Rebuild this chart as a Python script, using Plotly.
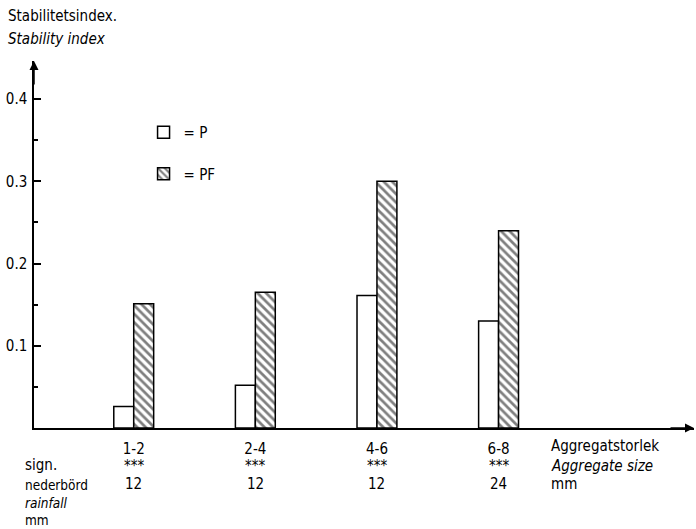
import plotly.graph_objects as go

categories = ["1-2", "2-4", "4-6", "6-8"]
cat_pos = [1, 2, 3, 4]
p_values = [0.026, 0.052, 0.161, 0.130]
pf_values = [0.151, 0.165, 0.300, 0.240]
sign_labels = ["***", "***", "***", "***"]
rainfall_mm = ["12", "12", "12", "24"]
y_ticks = [0.1, 0.2, 0.3, 0.4]
y_ticklabels = ["0.1", "0.2", "0.3", "0.4"]

FONT = "DejaVu Sans Condensed, Liberation Sans Narrow, DejaVu Sans, sans-serif"
BW = 0.164

fig = go.Figure()
fig.add_trace(go.Bar(
    x=cat_pos, y=p_values, name="= P", width=BW, offset=-BW,
    marker=dict(color="white", line=dict(color="black", width=1.5)),
    legendgroup="p",
))
fig.add_trace(go.Bar(
    x=cat_pos, y=pf_values, name="= PF", width=BW, offset=0,
    marker=dict(color="white", line=dict(color="black", width=1.5),
                pattern=dict(shape="\\", size=6, solidity=0.45,
                             fgcolor="black", bgcolor="white")),
    legendgroup="pf",
))

ann = []
def txt(text, x, y, xref="paper", yref="paper", xanchor="left", xshift=0, yshift=0,
        italic=False, size=15, yanchor="middle"):
    ann.append(dict(text=text, x=x, y=y, xref=xref, yref=yref, xanchor=xanchor,
                    yanchor=yanchor, xshift=xshift, yshift=yshift, showarrow=False,
                    align="left",
                    font=dict(family=FONT, size=size, color="black",
                              style="italic" if italic else "normal")))

# titles
txt("Stabilitetsindex.", 0, 1, xshift=-28, yshift=45)
txt("Stability index", 0, 1, xshift=-28, yshift=22, italic=True)
# bottom rows
for xp, s, r in zip(cat_pos, sign_labels, rainfall_mm):
    txt(s, xp, 0, xref="x", xanchor="center", yshift=-38, size=15)
    txt(r, xp, 0, xref="x", xanchor="center", yshift=-56)
txt("sign.", 0, 0, xshift=-11, yshift=-37)
txt("nederbörd<br><i>rainfall</i><br>mm", 0, 0, xshift=-11, yshift=-47,
    size=13.5, yanchor="top")
txt("Aggregatstorlek", 0.781, 0, yshift=-18)
txt("Aggregate size", 0.781, 0, yshift=-38, italic=True)
txt("mm", 0.781, 0, yshift=-56)

# axis arrowheads
ann.append(dict(x=0, y=1, xref="paper", yref="paper", ax=0, ay=25, showarrow=True,
                arrowhead=2, arrowsize=1.2, arrowwidth=1.5, arrowcolor="black", text=""))
ann.append(dict(x=1, y=0, xref="paper", yref="paper", ax=-25, ay=0, showarrow=True,
                arrowhead=2, arrowsize=1.2, arrowwidth=1.5, arrowcolor="black", text=""))

fig.update_layout(
    width=696, height=529,
    margin=dict(l=34, r=2, t=61, b=101, autoexpand=False),
    paper_bgcolor="white", plot_bgcolor="white",
    barmode="overlay",
    font=dict(family=FONT, size=15, color="black"),
    showlegend=True,
    legend=dict(x=0.166, y=0.85, xanchor="left", yanchor="top",
                traceorder="grouped", tracegroupgap=19,
                font=dict(family=FONT, size=15, color="black"),
                bgcolor="rgba(0,0,0,0)"),
    annotations=ann,
    xaxis=dict(range=[0.18, 5.607], tickvals=cat_pos, ticktext=categories,
               showline=True, linecolor="black", linewidth=1.5, ticks="",
               showgrid=False, zeroline=False, tickfont=dict(size=15),
               ticklabelstandoff=6, automargin=False),
    yaxis=dict(range=[0, 0.4463], tickvals=y_ticks, ticktext=y_ticklabels,
               showline=True, linecolor="black", linewidth=1.5,
               ticks="inside", ticklen=7, tickwidth=1.5, tickcolor="black",
               minor=dict(tickvals=[0.05, 0.15, 0.25, 0.35], ticks="inside",
                          ticklen=4, tickwidth=1.5, tickcolor="black"),
               showgrid=False, zeroline=False, tickfont=dict(size=15),
               ticklabelstandoff=2, automargin=False),
)

fig.write_html("out.html", config={"displayModeBar": False},
               post_script="document.body.style.margin='0';document.body.style.overflow='hidden';")
